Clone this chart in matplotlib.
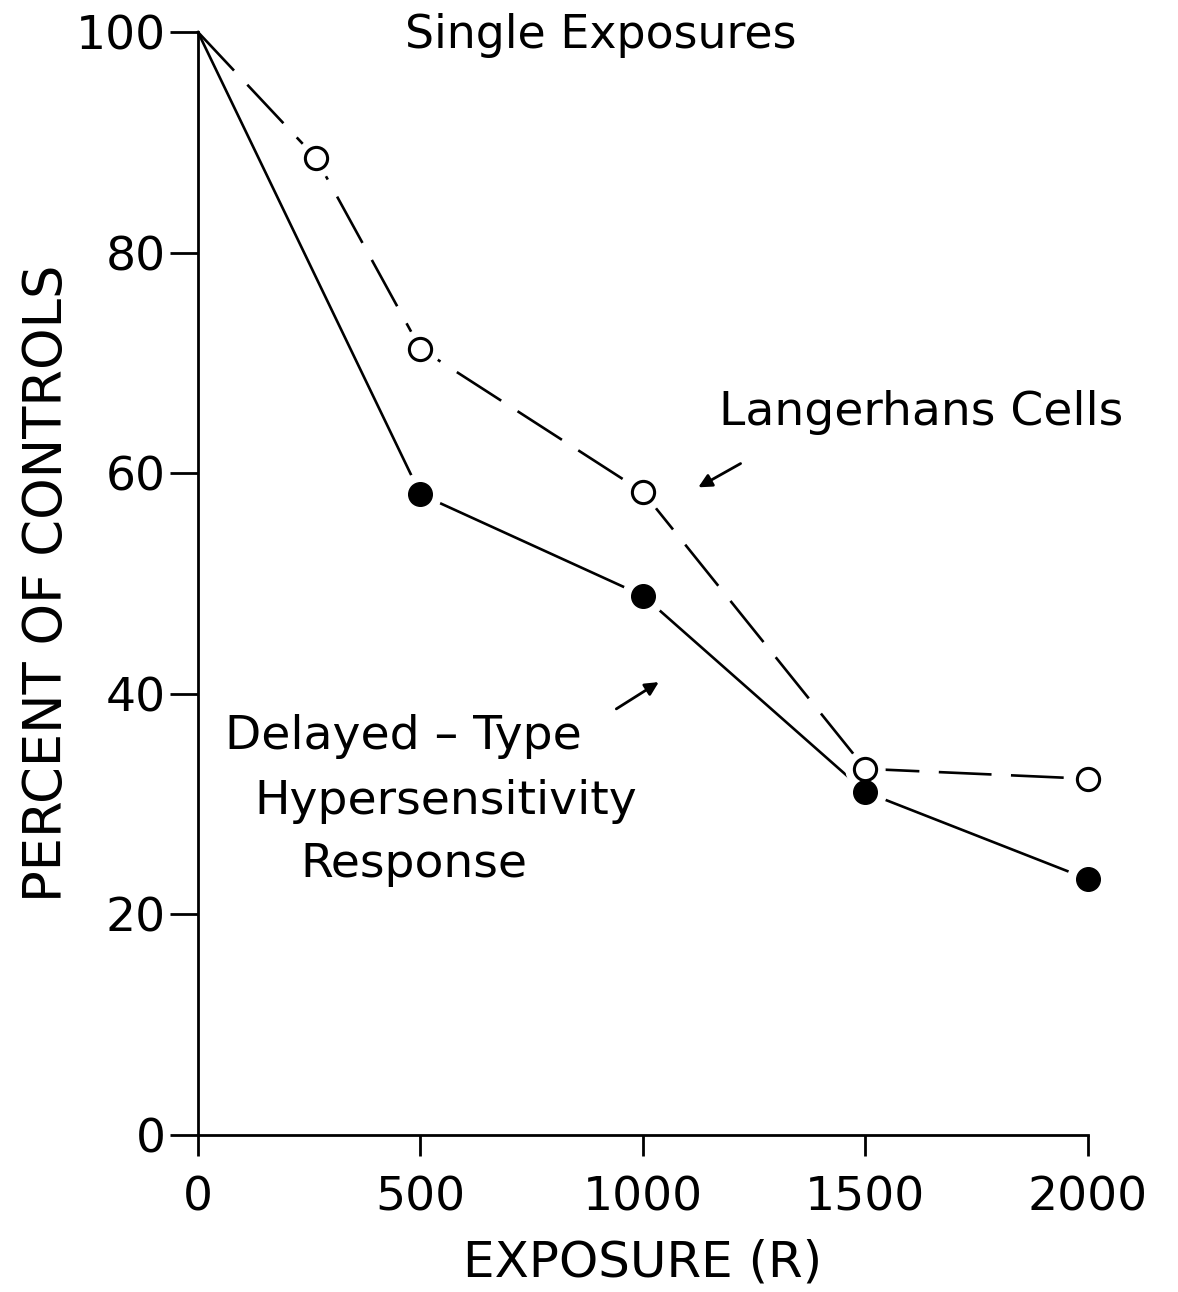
import matplotlib
matplotlib.use("Agg")
import matplotlib.pyplot as plt

# ---- data ----
lc_x = [0, 265, 500, 1000, 1500, 2000]
lc_y = [100, 88.6, 71.3, 58.3, 33.2, 32.3]
dth_x = [0, 500, 1000, 1500, 2000]
dth_y = [100, 58.1, 48.9, 31.1, 23.2]
xticks = [0, 500, 1000, 1500, 2000]
yticks = [0, 20, 40, 60, 80, 100]

plt.rcParams['font.family'] = ['DejaVu Sans']
plt.rcParams['lines.scale_dashes'] = False

fig = plt.figure(figsize=(11.78, 12.92), dpi=100)
ax = fig.add_axes([0.168, 0.1215, 0.7555, 0.8537])
ax.set_xlim(0, 2000)
ax.set_ylim(0, 100)

# lines
ax.plot(lc_x, lc_y, color='black', lw=1.9, linestyle=(0, (38, 14)), clip_on=False, zorder=2)
ax.plot(dth_x, dth_y, color='black', lw=1.9, clip_on=False, zorder=2)
# white halos to create gaps around markers
ax.plot(lc_x[1:], lc_y[1:], linestyle='none', marker='o', ms=28, mfc='white', mec='white', clip_on=False, zorder=3)
ax.plot(dth_x[1:], dth_y[1:], linestyle='none', marker='o', ms=30, mfc='white', mec='white', clip_on=False, zorder=3)
# markers
ax.plot(lc_x[1:], lc_y[1:], linestyle='none', marker='o', ms=16, mfc='white', mec='black', mew=2.2, clip_on=False, zorder=4)
ax.plot(dth_x[1:], dth_y[1:], linestyle='none', marker='o', ms=17, mfc='black', mec='black', clip_on=False, zorder=5)

# spines
for s in ['top', 'right']:
    ax.spines[s].set_visible(False)
for s in ['left', 'bottom']:
    ax.spines[s].set_linewidth(2.0)

ax.set_xticks(xticks)
ax.set_yticks(yticks)
ax.set_xticklabels([str(v) for v in xticks])
ax.set_yticklabels([str(v) for v in yticks])
ax.tick_params(axis='y', direction='out', length=20, width=2.0, pad=3, labelsize=34)
ax.tick_params(axis='x', direction='out', length=15, width=2.0, pad=14, labelsize=34)

ax.set_xlabel('EXPOSURE (R)', fontsize=36, labelpad=13)
ax.set_ylabel('PERCENT OF CONTROLS', fontsize=38, labelpad=2)

ax.text(905, 99.7, 'Single Exposures', fontsize=33, ha='center', va='center', clip_on=False)
ax.text(1171, 65.5, 'Langerhans Cells', fontsize=34, ha='left', va='center', clip_on=False)
ax.annotate('', xy=(1119, 58.6), xytext=(1225, 61.0),
            arrowprops=dict(arrowstyle='-|>', color='black', lw=2.0, mutation_scale=20))
ax.text(61, 36.1, 'Delayed – Type', fontsize=34, ha='left', va='center')
ax.text(128, 30.2, 'Hypersensitivity', fontsize=34, ha='left', va='center')
ax.text(230, 24.5, 'Response', fontsize=34, ha='left', va='center')
ax.annotate('', xy=(1041, 41.2), xytext=(935, 38.5),
            arrowprops=dict(arrowstyle='-|>', color='black', lw=2.0, mutation_scale=20))

fig.savefig('out.png', dpi=100, facecolor='white')
